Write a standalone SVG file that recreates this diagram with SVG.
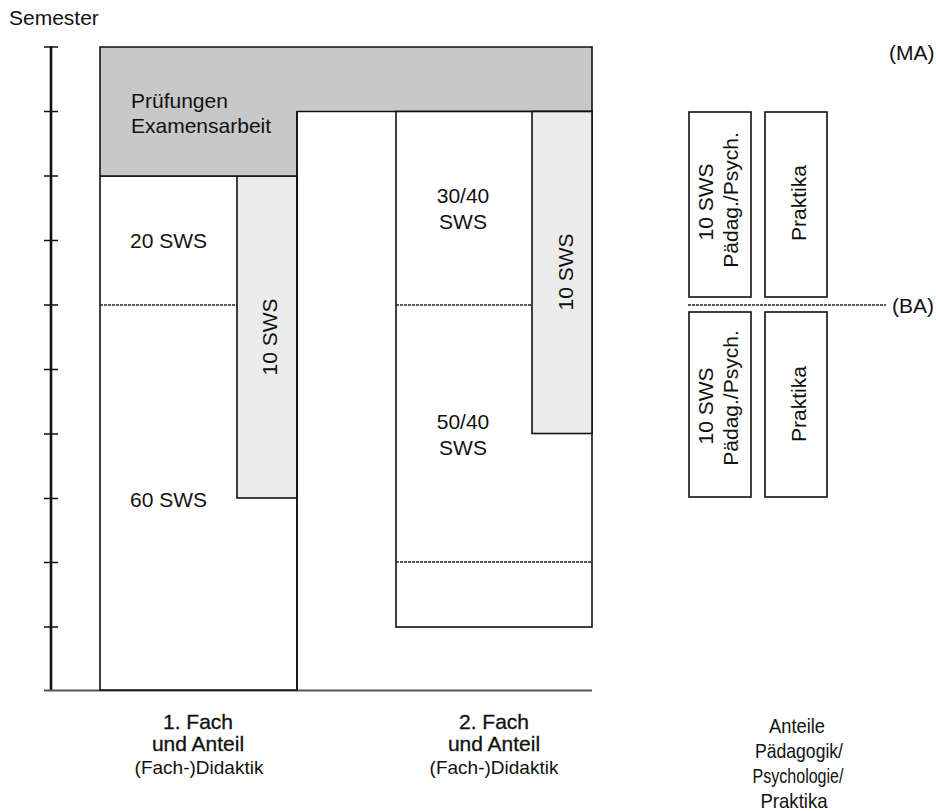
<svg xmlns="http://www.w3.org/2000/svg" width="936" height="812" viewBox="0 0 936 812">
<style>
text{font-family:"Liberation Sans",Arial,sans-serif;fill:#111;font-size:21px}
.bold{stroke:#111;stroke-width:0.3}
.d{font-size:19px}
.b{stroke:#111;stroke-width:1.6}
.dot{stroke:#222;stroke-width:1.5;stroke-dasharray:3 1;fill:none}
</style>
<rect width="936" height="812" fill="#fff"/>
<text x="9" y="25">Semester</text>
<g id="axis" stroke="#111" fill="none">
<line x1="51" y1="46" x2="51" y2="691" stroke-width="2.6"/>
<path d="M44 47H58M44 111.5H58M44 176H58M44 240.5H58M44 305H58M44 369.5H58M44 434H58M44 498.5H58M44 562.5H58M44 627H58" stroke-width="1.6"/>
<line x1="44" y1="690.5" x2="592" y2="690.5" stroke="#555" stroke-width="2"/>
</g>
<g id="fach1">
<rect x="100" y="176" width="197" height="514" fill="#fff" class="b"/>
<rect id="didaktik1" x="237" y="176" width="60" height="322" fill="#ececec" class="b"/>
<line x1="100" y1="305" x2="237" y2="305" class="dot"/>
<text x="130" y="248">20 SWS</text>
<text x="130" y="507">60 SWS</text>
<text transform="translate(277 337) rotate(-90)" text-anchor="middle">10 SWS</text>
</g>
<g id="pruefungen">
<path d="M100 47H592V111.5H297V176H100Z" fill="#c8c8c8" class="b"/>
<text x="131" y="108">Prüfungen</text>
<text x="131" y="133">Examensarbeit</text>
</g>
<g id="fach2">
<line x1="297" y1="111.5" x2="297" y2="690" class="b"/>
<rect x="396" y="111.5" width="196" height="515.5" fill="#fff" class="b"/>
<rect id="didaktik2" x="532" y="111.5" width="60" height="322" fill="#ececec" class="b"/>
<line x1="396" y1="305" x2="532" y2="305" class="dot"/>
<line x1="396" y1="562" x2="592" y2="562" class="dot"/>
<text x="463" y="203" text-anchor="middle">30/40</text>
<text x="463" y="229" text-anchor="middle">SWS</text>
<text x="463" y="429" text-anchor="middle">50/40</text>
<text x="463" y="455" text-anchor="middle">SWS</text>
<text transform="translate(573 272) rotate(-90)" text-anchor="middle">10 SWS</text>
</g>
<g id="ma-paed">
<rect x="689" y="112" width="62" height="185" fill="#fff" class="b"/>
<text transform="translate(713 202) rotate(-90)" text-anchor="middle">10 SWS</text>
<text transform="translate(738 200) rotate(-90)" text-anchor="middle">Pädag./Psych.</text>
</g>
<g id="ma-prak">
<rect x="765" y="112" width="62" height="185" fill="#fff" class="b"/>
<text transform="translate(806 203) rotate(-90)" text-anchor="middle">Praktika</text>
</g>
<g id="ba-paed">
<rect x="689" y="312" width="62" height="185" fill="#fff" class="b"/>
<text transform="translate(713 406) rotate(-90)" text-anchor="middle">10 SWS</text>
<text transform="translate(738 398) rotate(-90)" text-anchor="middle">Pädag./Psych.</text>
</g>
<g id="ba-prak">
<rect x="765" y="312" width="62" height="185" fill="#fff" class="b"/>
<text transform="translate(806 404) rotate(-90)" text-anchor="middle">Praktika</text>
</g>
<line x1="688" y1="305" x2="886" y2="305" class="dot"/>
<text x="892" y="313">(BA)</text>
<text x="889" y="60">(MA)</text>
<g id="labels" text-anchor="middle">
<text class="bold" x="198" y="729">1. Fach</text>
<text class="bold" x="198" y="751">und Anteil</text>
<text class="d" x="199" y="774">(Fach-)Didaktik</text>
<text class="bold" x="494" y="729">2. Fach</text>
<text class="bold" x="494" y="751">und Anteil</text>
<text class="d" x="494" y="774">(Fach-)Didaktik</text>
<text x="797" y="733" textLength="56" lengthAdjust="spacingAndGlyphs">Anteile</text>
<text x="799" y="758" textLength="88" lengthAdjust="spacingAndGlyphs">Pädagogik/</text>
<text x="798" y="783" textLength="91" lengthAdjust="spacingAndGlyphs">Psychologie/</text>
<text x="794" y="808" textLength="67" lengthAdjust="spacingAndGlyphs">Praktika</text>
</g>
</svg>
